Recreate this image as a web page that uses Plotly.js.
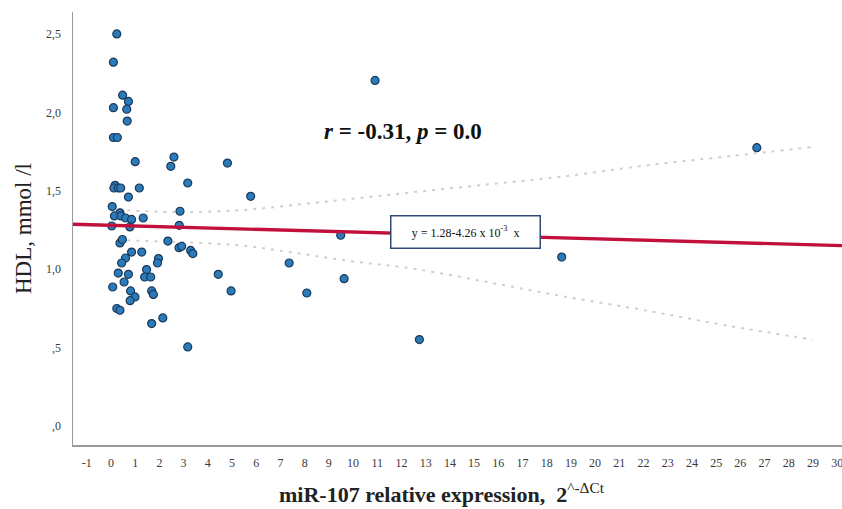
<!DOCTYPE html>
<html>
<head>
<meta charset="utf-8">
<script src="https://cdn.plot.ly/plotly-3.0.1.min.js"></script>
<style>html,body{margin:0;padding:0;background:#fff;}#chart{width:842px;height:509px;}</style>
</head>
<body>
<div id="chart"></div>
<script>
// miR-107 relative expression (2^-ΔCt) for each subject
const exprX = [0.24, 0.10, 0.48, 0.10, 0.72, 0.65, 0.67, 0.10, 0.26, 1.00,
               2.60, 2.47, 3.17, 0.17, 0.12, 0.30, 0.40, 1.17, 0.72, 0.05,
               0.37, 0.14, 0.41, 0.60, 0.85, 1.33, 0.03, 0.78, 2.85, 2.82,
               2.35, 2.81, 2.92, 3.29, 3.38, 0.37, 0.47, 0.85, 1.27, 0.60,
               0.44, 1.96, 1.92, 1.47, 1.39, 1.64, 0.30, 0.72, 0.07, 0.54,
               0.81, 0.99, 0.79, 1.68, 1.75, 0.24, 0.37, 1.68, 2.14, 3.17,
               4.81, 5.77, 9.49, 7.36, 4.43, 9.63, 4.96, 8.09, 10.91, 26.68,
               18.62, 12.74];
// HDL, mmol/l for each subject
const hdlY  = [2.50, 2.32, 2.11, 2.03, 2.07, 2.02, 1.945, 1.84, 1.84, 1.686,
               1.715, 1.656, 1.55, 1.535, 1.518, 1.518, 1.518, 1.518, 1.46, 1.40,
               1.36, 1.34, 1.34, 1.327, 1.318, 1.327, 1.276, 1.27, 1.37, 1.28,
               1.18, 1.138, 1.147, 1.12, 1.10, 1.168, 1.19, 1.11, 1.11, 1.072,
               1.04, 1.068, 1.04, 0.998, 0.951, 0.951, 0.976, 0.968, 0.887, 0.919,
               0.862, 0.824, 0.80, 0.862, 0.84, 0.75, 0.739, 0.654, 0.69, 0.505,
               1.677, 1.465, 1.217, 1.04, 0.968, 0.94, 0.862, 0.849, 2.204, 1.775,
               1.078, 0.552];

// Linear fit line (read at the plot edges)
const fitX = [-1.57, 30.2];
const fitY = [1.287, 1.151];

// 95% confidence band
const ciX     = [0.3, 2.5, 5.3, 7.8, 10.0, 12.4, 15.5, 18.6, 22.0, 25.5, 29.0];
const ciUpper = [1.38, 1.365, 1.376, 1.414, 1.45, 1.49, 1.54, 1.59, 1.66, 1.72, 1.78];
const ciLower = [1.185, 1.175, 1.153, 1.10, 1.05, 1.006, 0.92, 0.83, 0.74, 0.64, 0.552];

const xTicks = [-1,0,1,2,3,4,5,6,7,8,9,10,11,12,13,14,15,16,17,18,19,20,21,22,23,24,25,26,27,28,29,30];
const yTickVals = [0, 0.5, 1.0, 1.5, 2.0, 2.5];
const yTickText = [",0", ",5", "1,0", "1,5", "2,0", "2,5"];

const ciStyle = {color: '#cfcfcf', width: 2, dash: '3px,6px', shape: 'spline'};

const traces = [
  {x: ciX, y: ciUpper, mode: 'lines', line: ciStyle, hoverinfo: 'skip', showlegend: false},
  {x: ciX, y: ciLower, mode: 'lines', line: ciStyle, hoverinfo: 'skip', showlegend: false},
  {x: exprX, y: hdlY, mode: 'markers', type: 'scatter', showlegend: false,
   marker: {size: 8, color: '#2b7bbb', line: {color: '#1c3a5a', width: 1.2}}},
  {x: fitX, y: fitY, mode: 'lines', line: {color: '#c2103c', width: 3.4}, showlegend: false}
];

const serif = 'Liberation Serif, DejaVu Serif, serif';

const layout = {
  width: 842, height: 509,
  margin: {l: 73, r: 0, t: 12, b: 64},
  paper_bgcolor: '#ffffff', plot_bgcolor: '#ffffff',
  showlegend: false,
  xaxis: {
    range: [-1.57, 30.2], tickvals: xTicks, ticktext: xTicks.map(String),
    showgrid: false, zeroline: false, showline: true, linecolor: '#9a9a9a', linewidth: 1.5,
    ticks: '', ticklabelstandoff: 6, ticklabeloverflow: 'allow',
    tickfont: {family: serif, size: 12, color: '#3a3a3a'}
  },
  yaxis: {
    range: [-0.12, 2.64], tickvals: yTickVals, ticktext: yTickText,
    showgrid: false, zeroline: false, showline: true, linecolor: '#9a9a9a', linewidth: 1.5,
    ticks: '', ticklabelstandoff: 8,
    tickfont: {family: serif, size: 12, color: '#3a3a3a'},
    title: {text: 'HDL, mmol /l', font: {family: serif, size: 23, color: '#222'}, standoff: 8}
  },
  annotations: [
    {xref: 'paper', yref: 'paper', x: (442 - 73) / 769, y: -0.11, xanchor: 'center', yanchor: 'middle',
     showarrow: false,
     text: '<b>miR-107 relative expression,  2</b><sup>^-ΔCt</sup>',
     font: {family: serif, size: 22, color: '#222'}},
    {x: 12.07, y: 1.88, xref: 'x', yref: 'y', showarrow: false, xanchor: 'center', yanchor: 'middle',
     text: '<b><i>r</i> = -0.31, <i>p</i> = 0.0</b>',
     font: {family: serif, size: 23, color: '#111'}},
    {x: 14.63, y: 1.236, xref: 'x', yref: 'y', showarrow: false, xanchor: 'center', yanchor: 'middle',
     text: 'y = 1.28-4.26 x 10<sup>-3</sup>  x',
     width: 146, height: 29, align: 'center',
     bgcolor: '#ffffff', bordercolor: '#2f4a78', borderwidth: 1.5, borderpad: 1,
     font: {family: serif, size: 12, color: '#111'}}
  ]
};

Plotly.newPlot('chart', traces, layout, {staticPlot: true, displayModeBar: false});
</script>
</body>
</html>
